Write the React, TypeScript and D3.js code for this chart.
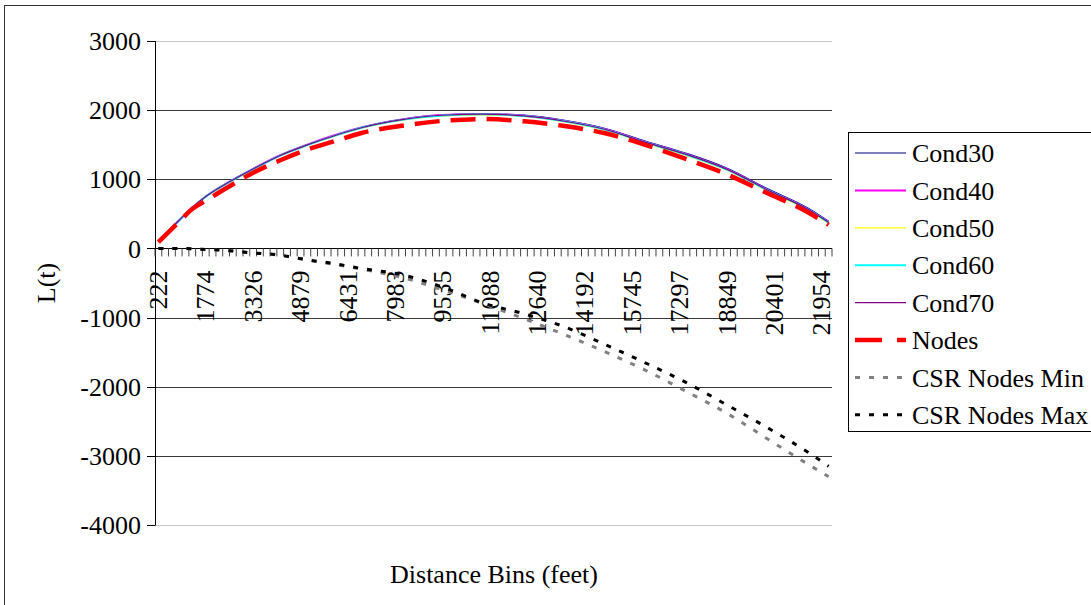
import React from 'react';
import * as d3 from 'd3';

const binCount = 100;
const tickEvery = 7;
const tickLabels = ['222', '1774', '3326', '4879', '6431', '7983', '9535', '11088', '12640', '14192', '15745', '17297', '18849', '20401', '21954'];
const yTicks = [3000, 2000, 1000, 0, -1000, -2000, -3000, -4000];

// bins the values were read at
const sampleBins = [0, 3, 5, 7, 10, 14, 18, 22, 26, 30, 36, 42, 48, 54, 60, 66, 72, 78, 84, 90, 96, 99];

const cond30 = [100, 400, 590, 752, 937, 1152, 1347, 1500, 1633, 1750, 1868, 1932, 1948, 1928, 1852, 1735, 1550, 1375, 1160, 862, 580, 392];
const cond40 = [100, 400, 592, 752, 937, 1152, 1348, 1502, 1636, 1750, 1866, 1930, 1944, 1920, 1843, 1724, 1538, 1362, 1147, 848, 566, 380];
const cond50 = [98, 398, 588, 748, 932, 1146, 1340, 1490, 1622, 1738, 1855, 1918, 1932, 1908, 1830, 1710, 1522, 1346, 1130, 832, 550, 362];
const cond60 = [99, 399, 589, 749, 934, 1148, 1343, 1495, 1628, 1744, 1860, 1924, 1940, 1916, 1838, 1718, 1531, 1356, 1140, 842, 560, 374];
const cond70 = [100, 400, 590, 750, 935, 1150, 1345, 1497, 1630, 1745, 1862, 1926, 1941, 1916, 1839, 1720, 1533, 1358, 1143, 844, 562, 376];
const nodes = [90, 380, 570, 690, 870, 1095, 1275, 1430, 1550, 1670, 1775, 1845, 1871, 1838, 1770, 1665, 1495, 1290, 1070, 797, 520, 340];
const csrMin = [0, 0, -5, -15, -30, -65, -100, -170, -230, -300, -420, -600, -800, -1017, -1247, -1496, -1764, -2070, -2385, -2757, -3124, -3300];
const csrMax = [0, 0, -5, -15, -30, -65, -96, -165, -220, -290, -380, -560, -790, -946, -1135, -1391, -1658, -1942, -2265, -2595, -2951, -3150];

const series = [
  { name: 'Cond30', values: cond30, color: '#000080', width: 1.2, dash: null },
  { name: 'Cond40', values: cond40, color: '#ff00ff', width: 2, dash: null },
  { name: 'Cond50', values: cond50, color: '#ffff00', width: 1.2, dash: null },
  { name: 'Cond60', values: cond60, color: '#00ffff', width: 2, dash: null },
  { name: 'Cond70', values: cond70, color: '#800080', width: 1.2, dash: null },
  { name: 'Nodes', values: nodes, color: '#ff0000', width: 4.5, dash: '25 11' },
  { name: 'CSR Nodes Min', values: csrMin, color: '#808080', width: 3, dash: '5 9' },
  { name: 'CSR Nodes Max', values: csrMax, color: '#000000', width: 3, dash: '5 9' },
];

const W = 1091;
const H = 605;
const left = 155;
const right = 832;
const top = 41;
const bottom = 525;
const font = '"Liberation Serif", "Times New Roman", serif';

export default function App() {
  const x = d3.scaleBand<number>().domain(d3.range(binCount)).range([left, right]);
  const xc = (i: number) => (x(i) as number) + x.bandwidth() / 2;
  const y = d3.scaleLinear().domain([-4000, 3000]).range([bottom, top]);

  const line = d3.line<number>()
    .x((_, k) => xc(sampleBins[k]))
    .y(d => y(d))
    .curve(d3.curveMonotoneX);

  const y0 = y(0);
  const legendX = 848;
  const legendTop = 132;
  const rowH = 37.4;

  return (
    <div style={{ position: 'absolute', left: 0, top: 0 }}>
      <svg width={W} height={H} style={{ display: 'block', background: '#fff' }}>
        <rect x={4.5} y={5.5} width={1200} height={800} fill="#fff" stroke="#333" />

        {/* gridlines */}
        {yTicks.map(t => (
          <line key={t} x1={left} x2={right} y1={Math.round(y(t)) + 0.5} y2={Math.round(y(t)) + 0.5}
            stroke={t === 3000 || t === -4000 ? '#c8c8c8' : '#3a3a3a'} strokeWidth={1} />
        ))}

        {/* y axis */}
        <line x1={left + 0.5} x2={left + 0.5} y1={y(3000)} y2={y(-4000) + 0.5} stroke="#000" />
        {yTicks.map(t => (
          <g key={'yt' + t}>
            <line x1={left - 8} x2={left} y1={Math.round(y(t)) + 0.5} y2={Math.round(y(t)) + 0.5} stroke="#000" />
            <text x={141} y={y(t)} dy="0.35em" textAnchor="end" fontFamily={font} fontSize={26}>{t}</text>
          </g>
        ))}

        {/* x axis at zero */}
        <line x1={left} x2={right} y1={Math.round(y0) + 0.5} y2={Math.round(y0) + 0.5} stroke="#000" />
        {d3.range(binCount + 1).map(i => {
          const px = left + i * x.bandwidth();
          return <line key={'xt' + i} x1={px} x2={px} y1={y0} y2={y0 + 8} stroke="#444" strokeWidth={1} />;
        })}
        {tickLabels.map((lab, k) => {
          const px = xc(k * tickEvery);
          return (
            <text key={lab} transform={`translate(${px},${y0 + 22}) rotate(-90)`} dy="0.33em"
              textAnchor="end" fontFamily={font} fontSize={26}>{lab}</text>
          );
        })}

        {/* series */}
        {series.map(s => (
          <path key={s.name} d={line(s.values) || ''} fill="none" stroke={s.color}
            strokeWidth={s.width} strokeDasharray={s.dash || undefined} />
        ))}

        {/* axis titles */}
        <text transform="translate(46,283) rotate(-90)" dy="0.35em" textAnchor="middle" fontFamily={font} fontSize={26}>L(t)</text>
        <text x={494} y={583} textAnchor="middle" fontFamily={font} fontSize={26}>Distance Bins (feet)</text>

        {/* legend */}
        <rect x={legendX + 0.5} y={legendTop + 0.5} width={300} height={299} fill="#fff" stroke="#000" />
        {series.map((s, k) => {
          const ly = legendTop + 21 + k * rowH;
          return (
            <g key={'lg' + s.name}>
              <line x1={855} x2={906} y1={ly} y2={ly} stroke={s.color} strokeWidth={s.width}
                strokeDasharray={s.name === 'Nodes' ? '27 15' : s.dash || undefined} />
              <text x={912} y={ly} dy="0.35em" fontFamily={font} fontSize={26}>{s.name}</text>
            </g>
          );
        })}
      </svg>
    </div>
  );
}
